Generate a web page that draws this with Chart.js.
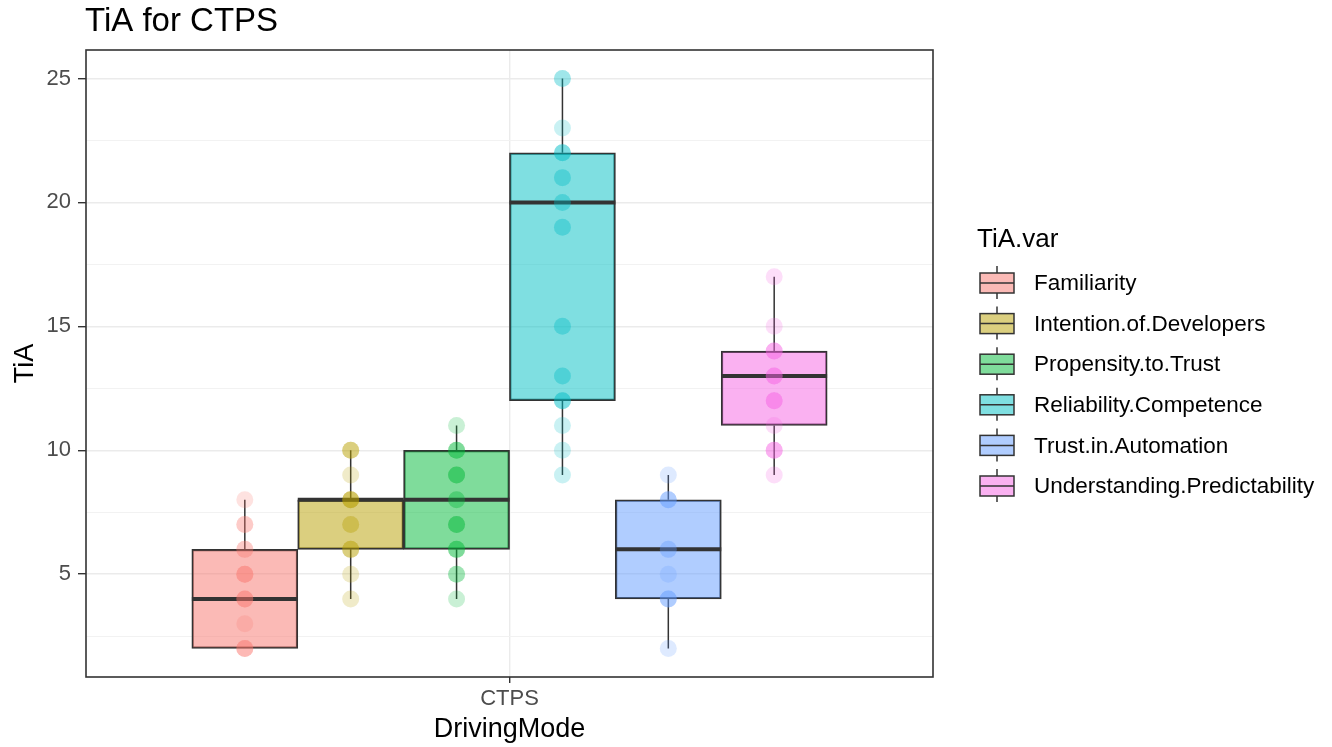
<!DOCTYPE html>
<html>
<head>
<meta charset="utf-8">
<script src="https://cdn.jsdelivr.net/npm/chart.js@4.4.1/dist/chart.umd.min.js"></script>
<style>
  html, body { margin: 0; padding: 0; background: #fff; }
  #wrap { width: 1332px; height: 747px; }
</style>
</head>
<body>
<div id="wrap"><canvas id="chartTiA"></canvas></div>
<script>
const categories = ["CTPS"];
const groups = [
  "Familiarity",
  "Intention.of.Developers",
  "Propensity.to.Trust",
  "Reliability.Competence",
  "Trust.in.Automation",
  "Understanding.Predictability",
];
const colors = ["#F8766D", "#B79F00", "#00BA38", "#00BFC4", "#619CFF", "#F564E3"];

// box stats
const whiskerLow = [2, 4, 4, 9, 2, 9];
const boxLow = [2, 6, 6, 12, 4, 11];
const medians = [4, 8, 8, 20, 6, 13];
const boxHigh = [6, 8, 10, 22, 8, 14];
const whiskerHigh = [8, 10, 11, 25, 9, 17];

// raw points (repeats = darker overlapping dots)
const ptsFamiliarity = [2, 2, 2, 3, 4, 4, 4, 5, 5, 5, 6, 6, 7, 7, 8];
const ptsIntention = [4, 5, 6, 6, 6, 7, 7, 8, 8, 8, 8, 9, 10, 10, 10];
const ptsPropensity = [4, 5, 5, 6, 6, 6, 7, 7, 7, 8, 8, 9, 9, 9, 10, 10, 10, 11];
const ptsReliability = [9, 10, 11, 12, 12, 12, 13, 13, 15, 15, 19, 19, 20, 20, 21, 21, 22, 22, 22, 23, 25, 25];
const ptsTrust = [2, 4, 4, 4, 5, 6, 6, 8, 8, 8, 9];
const ptsUnderstanding = [9, 10, 10, 10, 11, 12, 12, 12, 13, 13, 13, 14, 14, 14, 15, 17];
const points = [ptsFamiliarity, ptsIntention, ptsPropensity, ptsReliability, ptsTrust, ptsUnderstanding];

const yTicks = [5, 10, 15, 20, 25];

function alpha(hex, a) {
  const n = parseInt(hex.slice(1), 16);
  return `rgba(${(n >> 16) & 255}, ${(n >> 8) & 255}, ${n & 255}, ${a})`;
}

const FONT = "'Liberation Sans', Arial, sans-serif";
const dodge = 0.9;
const boxW = dodge / groups.length;
const xPos = (i) => 1 + (i - (groups.length - 1) / 2) * boxW;

const datasets = [];
groups.forEach((g, i) => {
  const x = xPos(i);
  datasets.push({
    type: "scatter",
    label: g + " points",
    data: points[i].map((v) => ({ x: x, y: v })),
    backgroundColor: alpha(colors[i], 0.21),
    borderWidth: 0,
    pointRadius: 8.5,
    order: 0,
  });
  datasets.push({
    type: "line",
    label: g + " median",
    data: [{ x: x - boxW / 2, y: medians[i] }, { x: x + boxW / 2, y: medians[i] }],
    borderColor: "#333333",
    borderWidth: 4,
    pointRadius: 0,
    borderCapStyle: "butt",
    order: 1,
  });
  datasets.push({
    type: "bar",
    label: g,
    data: [{ x: x, y: [boxLow[i], boxHigh[i]] }],
    backgroundColor: alpha(colors[i], 0.5),
    borderColor: "#333333",
    borderWidth: 1.6,
    borderSkipped: false,
    grouped: false,
    barThickness: 106,
    order: 2,
  });
  datasets.push({
    type: "line",
    label: g + " whisker",
    data: [
      { x: x, y: whiskerLow[i] }, { x: x, y: boxLow[i] },
      { x: x, y: null },
      { x: x, y: boxHigh[i] }, { x: x, y: whiskerHigh[i] },
    ],
    spanGaps: false,
    borderColor: "#333333",
    borderWidth: 1.5,
    pointRadius: 0,
    order: 3,
  });
});

// title, panel border and legend (ggplot style)
const decor = {
  id: "decor",
  afterDraw(chart) {
    const { ctx, chartArea: a } = chart;
    ctx.save();
    ctx.strokeStyle = "#333333";
    ctx.lineWidth = 1.6;
    ctx.strokeRect(a.left, a.top, a.right - a.left, a.bottom - a.top);

    ctx.fillStyle = "#000";
    ctx.textBaseline = "middle";
    ctx.textAlign = "left";
    ctx.font = `33px ${FONT}`;
    ctx.fillText("TiA for CTPS", a.left - 1, 22);

    ctx.font = `26px ${FONT}`;
    ctx.fillText("TiA.var", 977, 240);
    ctx.font = `22.5px ${FONT}`;
    groups.forEach((g, i) => {
      const cy = 283 + i * 40.6;
      ctx.strokeStyle = "#333333";
      ctx.lineWidth = 1.5;
      ctx.beginPath();
      ctx.moveTo(997, cy - 17);
      ctx.lineTo(997, cy + 16);
      ctx.stroke();
      ctx.fillStyle = "#fff";
      ctx.fillRect(980, cy - 10, 34, 20);
      ctx.fillStyle = alpha(colors[i], 0.5);
      ctx.fillRect(980, cy - 10, 34, 20);
      ctx.strokeRect(980, cy - 10, 34, 20);
      ctx.beginPath();
      ctx.moveTo(980, cy);
      ctx.lineTo(1014, cy);
      ctx.stroke();
      ctx.fillStyle = "#000";
      ctx.fillText(g, 1034, cy + 1);
    });
    ctx.restore();
  },
};

new Chart(document.getElementById("chartTiA"), {
  type: "bar",
  data: { datasets: datasets },
  options: {
    responsive: true,
    maintainAspectRatio: false,
    animation: false,
    events: [],
    layout: { padding: { left: 0, top: 50, right: 399, bottom: 0 } },
    plugins: { legend: { display: false }, tooltip: { enabled: false } },
    scales: {
      x: {
        type: "linear",
        min: 0.4,
        max: 1.6,
        offset: false,
        afterBuildTicks: (s) => { s.ticks = categories.map((c, i) => ({ value: i + 1 })); },
        afterFit: (s) => { s.height = 70; },
        ticks: {
          callback: (v) => categories[Math.round(v) - 1] || "",
          color: "#4D4D4D",
          font: { family: FONT, size: 22 },
          padding: 3,
          maxRotation: 0,
        },
        grid: { color: "#EBEBEB", lineWidth: 1.4, tickLength: 6, tickColor: "#333333", offset: false },
        border: { display: false },
        title: {
          display: true,
          text: "DrivingMode",
          color: "#000",
          font: { family: FONT, size: 27 },
          padding: { top: 0, bottom: 1 },
        },
      },
      y: {
        min: 0.85,
        max: 26.15,
        afterBuildTicks: (s) => {
          const t = [];
          yTicks.forEach((v) => { t.push({ value: v - 2.5 }); t.push({ value: v }); });
          s.ticks = t;
        },
        afterFit: (s) => { s.width = 86; },
        ticks: {
          callback: (v) => (yTicks.includes(v) ? String(v) : ""),
          color: "#4D4D4D",
          font: { family: FONT, size: 22 },
          padding: 7,
        },
        grid: {
          color: (c) => (c.tick && yTicks.includes(c.tick.value) ? "#EBEBEB" : "#F2F2F2"),
          lineWidth: (c) => (c.tick && yTicks.includes(c.tick.value) ? 1.4 : 1),
          tickColor: (c) => (c.tick && yTicks.includes(c.tick.value) ? "#333333" : "rgba(0,0,0,0)"),
          tickLength: 8,
        },
        border: { display: false },
        title: {
          display: true,
          text: "TiA",
          color: "#000",
          font: { family: FONT, size: 27 },
          padding: { top: 9, bottom: 0 },
        },
      },
    },
  },
  plugins: [decor],
});
</script>
</body>
</html>
